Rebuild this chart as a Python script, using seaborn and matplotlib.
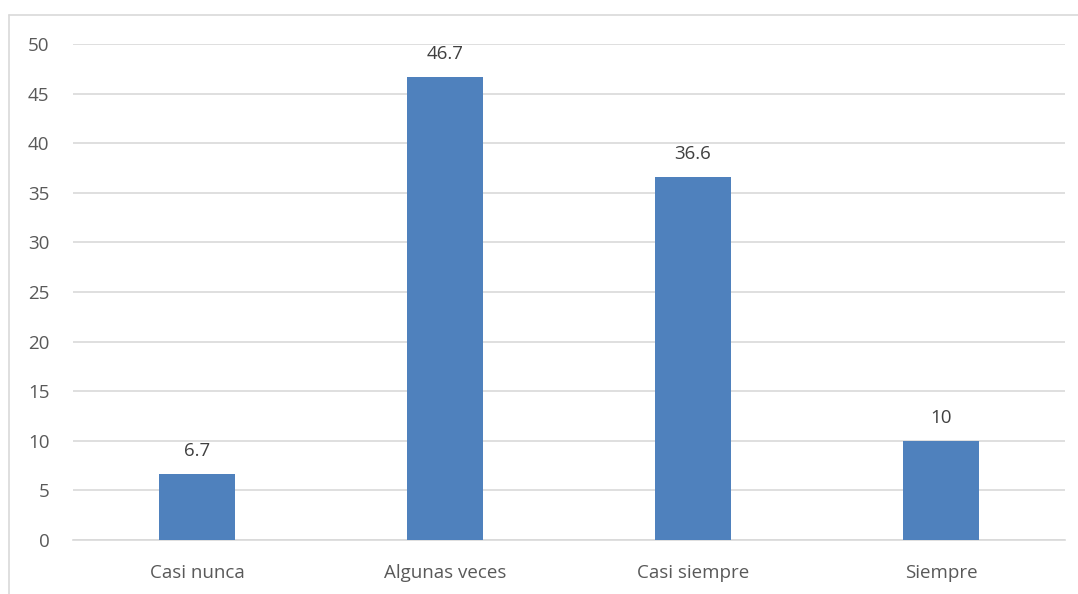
import matplotlib
matplotlib.use("Agg")
import matplotlib.pyplot as plt
import seaborn as sns
import pandas as pd
from matplotlib.lines import Line2D

categories = ["Casi nunca", "Algunas veces", "Casi siempre", "Siempre"]
values = [6.7, 46.7, 36.6, 10]
labels = ["6.7", "46.7", "36.6", "10"]
yticks = [0, 5, 10, 15, 20, 25, 30, 35, 40, 45, 50]

sns.set_style("white")
plt.rcParams['font.family'] = ['Open Sans', 'DejaVu Sans']

df = pd.DataFrame({"cat": categories, "val": values})

fig = plt.figure(figsize=(10.78, 5.94), dpi=100)
ax = fig.add_axes([73/1078, 1-540/594, (1065-73)/1078, (540-44)/594])

sns.barplot(data=df, x="cat", y="val", color="#4F81BD", width=0.31, ax=ax,
            saturation=1, zorder=3, linewidth=0, edgecolor="none")

ax.set_ylim(0, 50)
ax.set_xlim(-0.5, 3.5)
ax.set_yticks(yticks)
ax.set_yticklabels([str(t) for t in yticks])
ax.yaxis.grid(True, color="#D9D9D9", linewidth=1.2, zorder=0)
ax.set_axisbelow(True)
for s in ["top", "right", "left"]:
    ax.spines[s].set_visible(False)
ax.spines["bottom"].set_color("#D9D9D9")
ax.spines["bottom"].set_linewidth(1.2)
ax.tick_params(axis="both", length=0, labelsize=13.5, colors="#595959")
ax.tick_params(axis="y", pad=17)
ax.tick_params(axis="x", pad=17)
ax.set_xlabel("")
ax.set_ylabel("")

for p, lab in zip(ax.patches, labels):
    ax.annotate(lab, (p.get_x() + p.get_width()/2, p.get_height()),
                xytext=(0, 10), textcoords="offset points",
                ha="center", va="bottom", fontsize=13.5, color="#404040")

# outer chart border (left and top visible)
fig.add_artist(Line2D([9/1078, 9/1078], [0, 1-15/594], transform=fig.transFigure,
                      color="#D9D9D9", linewidth=1.2))
fig.add_artist(Line2D([9/1078, 1], [1-15/594, 1-15/594], transform=fig.transFigure,
                      color="#D9D9D9", linewidth=1.2))

fig.savefig("out.png", dpi=100)
